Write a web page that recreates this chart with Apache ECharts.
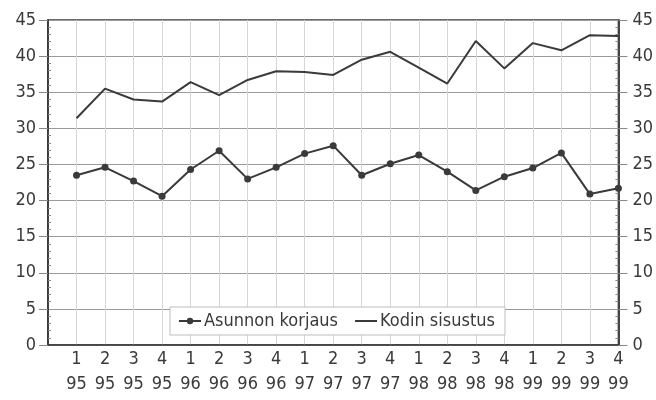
<!DOCTYPE html>
<html>
<head>
<meta charset="utf-8">
<script src="https://cdn.jsdelivr.net/npm/echarts@6/dist/echarts.min.js"></script>
<style>
  html, body { margin: 0; padding: 0; background: #fff; }
  #chart { width: 656px; height: 400px; }
</style>
</head>
<body>
<div id="chart"></div>
<script>
var quarters = ['1', '2', '3', '4', '1', '2', '3', '4', '1', '2', '3', '4', '1', '2', '3', '4', '1', '2', '3', '4'];
var years = ['95', '95', '95', '95', '96', '96', '96', '96', '97', '97', '97', '97', '98', '98', '98', '98', '99', '99', '99', '99'];
var asunnonKorjaus = [23.5, 24.6, 22.7, 20.6, 24.3, 26.9, 23.0, 24.6, 26.5, 27.6, 23.5, 25.1, 26.3, 24.0, 21.4, 23.3, 24.5, 26.6, 20.9, 21.7];
var kodinSisustus = [31.4, 35.5, 34.0, 33.7, 36.4, 34.6, 36.7, 37.9, 37.8, 37.4, 39.5, 40.6, 38.4, 36.2, 42.1, 38.3, 41.8, 40.8, 42.9, 42.8];

var FONT = "'DejaVu Sans Condensed', 'Liberation Sans Narrow', sans-serif";
var INK = '#3a3a3a';

// blank first slot so the first quarter sits one step in from the left axis
var cats = [''].concat(quarters.map(function (q, i) { return q + '\n' + years[i]; }));
var s1 = [null].concat(asunnonKorjaus);
var s2 = [null].concat(kodinSisustus);

var chart = echarts.init(document.getElementById('chart'));

function yAxis(pos, minorOnly) {
  return {
    type: 'value',
    position: pos,
    min: 0,
    max: 45,
    interval: 5,
    axisLine: { show: true, lineStyle: { color: INK, width: 1.5 } },
    axisTick: { show: !minorOnly, length: minorOnly ? 3 : 9, inside: minorOnly, lineStyle: { color: '#888' } },
    minorTick: { show: minorOnly, splitNumber: 5, length: 3, lineStyle: { color: '#888' } },
    axisLabel: {
      show: !minorOnly,
      color: INK,
      fontFamily: FONT,
      fontSize: 18,
      margin: pos === 'left' ? 12 : 14
    },
    splitLine: { show: !minorOnly && pos === 'left', lineStyle: { color: '#9a9a9a', width: 1 } }
  };
}

var option = {
  backgroundColor: '#ffffff',
  animation: false,
  grid: { left: 48, right: 34, top: 20, bottom: 55, containLabel: false, show: true, borderColor: INK, borderWidth: 1.5 },
  xAxis: {
    type: 'category',
    data: cats,
    boundaryGap: false,
    axisLine: { show: true, lineStyle: { color: INK, width: 1.5 } },
    axisTick: { show: false },
    axisLabel: {
      color: INK,
      fontFamily: FONT,
      fontSize: 18,
      lineHeight: 25,
      margin: 2,
      interval: 0
    },
    splitLine: { show: true, lineStyle: { color: '#d6d6d6', width: 1 } }
  },
  yAxis: [yAxis('left', false), yAxis('right', false), yAxis('left', true), yAxis('right', true)],
  legend: {
    left: 170,
    top: 307,
    padding: [5, 10, 5, 8],
    itemGap: 16,
    itemWidth: 22,
    itemHeight: 8,
    backgroundColor: '#ffffff',
    borderColor: '#bdbdbd',
    borderWidth: 1,
    textStyle: { color: INK, fontFamily: FONT, fontSize: 18, padding: [0, 0, 0, -2] },
    data: ['Asunnon korjaus', { name: 'Kodin sisustus', itemStyle: { opacity: 0 } }]
  },
  series: [
    {
      name: 'Asunnon korjaus',
      type: 'line',
      data: s1,
      symbol: 'circle',
      symbolSize: 7,
      showSymbol: true,
      lineStyle: { color: INK, width: 2 },
      itemStyle: { color: INK }
    },
    {
      name: 'Kodin sisustus',
      type: 'line',
      data: s2,
      symbol: 'none',
      lineStyle: { color: INK, width: 2 },
      itemStyle: { color: INK }
    }
  ]
};

chart.setOption(option);
</script>
</body>
</html>
